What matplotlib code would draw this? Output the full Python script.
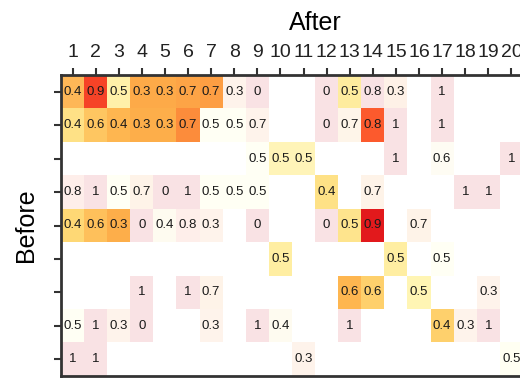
import numpy as np
import matplotlib
matplotlib.use("Agg")
import matplotlib.pyplot as plt

plt.rcParams['font.family'] = ['Liberation Sans', 'DejaVu Sans']

N = np.nan

# annotated value of each cell (rows = Before, cols = After)
values = np.array([
    [0.4, 0.9, 0.5, 0.3, 0.3, 0.7, 0.7, 0.3, 0, N, N, 0, 0.5, 0.8, 0.3, N, 1, N, N, N],
    [0.4, 0.6, 0.4, 0.3, 0.3, 0.7, 0.5, 0.5, 0.7, N, N, 0, 0.7, 0.8, 1, N, 1, N, N, N],
    [N, N, N, N, N, N, N, N, 0.5, 0.5, 0.5, N, N, N, 1, N, 0.6, N, N, 1],
    [0.8, 1, 0.5, 0.7, 0, 1, 0.5, 0.5, 0.5, N, N, 0.4, N, 0.7, N, N, N, 1, 1, N],
    [0.4, 0.6, 0.3, 0, 0.4, 0.8, 0.3, N, 0, N, N, 0, 0.5, 0.9, N, 0.7, N, N, N, N],
    [N, N, N, N, N, N, N, N, N, 0.5, N, N, N, N, 0.5, N, 0.5, N, N, N],
    [N, N, N, 1, N, 1, 0.7, N, N, N, N, N, 0.6, 0.6, N, 0.5, N, N, 0.3, N],
    [0.5, 1, 0.3, 0, N, N, 0.3, N, 1, 0.4, N, N, 1, N, N, N, 0.4, 0.3, 1, N],
    [1, 1, N, N, N, N, N, N, N, N, 0.3, N, N, N, N, N, N, N, N, 0.5],
])

# colour level of each cell on YlOrRd
shade = np.array([
    [0.37, 0.65, 0.10, 0.40, 0.40, 0.42, 0.44, 0.5, 0.8, N, N, 0.8, 0.13, 0.8, 0.5, N, 0.8, N, N, N],
    [0.2, 0.31, 0.36, 0.39, 0.39, 0.5, 0, 0, 0.5, N, N, 0.8, 0.4, 0.6, 0.8, N, 0.8, N, N, N],
    [N, N, N, N, N, N, N, N, 0, 0.08, 0.08, N, N, N, 0.8, N, 0.2, N, N, 0.8],
    [0.6, 0.8, 0, 0.45, 0.8, 0.8, 0, 0, 0, N, N, 0.2, N, 0.45, N, N, N, 0.8, 0.8, N],
    [0.25, 0.33, 0.39, 0.8, 0.2, 0.6, 0.5, N, 0.8, N, N, 0.8, 0.18, 0.75, N, 0.45, N, N, N, N],
    [N, N, N, N, N, N, N, N, N, 0.12, N, N, N, N, 0.12, N, 0, N, N, N],
    [N, N, N, 0.8, N, 0.8, 0.45, N, N, N, N, N, 0.36, 0.28, N, 0.07, N, N, 0.5, N],
    [0, 0.8, 0.5, 0.8, N, N, 0.5, N, 0.8, 0.2, N, N, 0.8, N, N, N, 0.28, 0.5, 0.8, N],
    [0.8, 0.8, N, N, N, N, N, N, N, N, 0.5, N, N, N, N, N, N, N, N, 0],
])

# opacity of each cell
alpha = np.array([
    [0.95, 1, 1, 1, 1, 1, 1, 0.1, 0.12, N, N, 0.12, 1, 0.12, 0.12, N, 0.12, N, N, N],
    [1, 1, 1, 1, 1, 1, 0.2, 0.2, 0.1, N, N, 0.12, 0.12, 1, 0.12, N, 0.12, N, N, N],
    [N, N, N, N, N, N, N, N, 0.2, 0.9, 0.9, N, N, N, 0.12, N, 0.1, N, N, 0.12],
    [0.1, 0.12, 0.2, 0.12, 0.12, 0.12, 0.2, 0.2, 0.2, N, N, 1, N, 0.12, N, N, N, 0.12, 0.12, N],
    [1, 1, 1, 0.12, 0.12, 0.1, 0.1, N, 0.12, N, N, 0.12, 1, 1, N, 0.12, N, N, N, N],
    [N, N, N, N, N, N, N, N, N, 1, N, N, N, N, 1, N, 0.2, N, N, N],
    [N, N, N, 0.12, N, 0.12, 0.12, N, N, N, N, N, 1, 1, N, 1, N, N, 0.1, N],
    [0.2, 0.12, 0.1, 0.12, N, N, 0.1, N, 0.12, 0.12, N, N, 0.12, N, N, N, 1, 0.1, 0.12, N],
    [0.12, 0.12, N, N, N, N, N, N, N, N, 0.1, N, N, N, N, N, N, N, N, 0.25],
])

n_rows, n_cols = values.shape
col_labels = [str(i) for i in range(1, 21)]

cmap = plt.get_cmap('YlOrRd')
rgba = cmap(np.nan_to_num(shade))
rgba[..., 3] = np.nan_to_num(alpha)

fig = plt.figure(figsize=(5.2, 3.78), dpi=100)
ax = fig.add_axes([61 / 520, 2 / 378, 22 * 23.1 / 520, 301 / 378])

ax.imshow(rgba, extent=(0.5, n_cols + 0.5, n_rows + 0.5, 0.5),
          aspect='auto', interpolation='nearest')

for i in range(n_rows):
    for j in range(n_cols):
        v = values[i, j]
        if np.isnan(v):
            continue
        ax.text(j + 1, i + 1, '%g' % v, ha='center', va='center',
                fontsize=9.5, color='#1a1a1a')

ax.set_xlim(0.5, 22.5)
ax.set_ylim(n_rows + 0.5, 0.5)
ax.set_xticks(range(1, 23))
ax.set_xticklabels(col_labels + ['', ''])
ax.set_yticks(range(1, n_rows + 1))
ax.set_yticklabels([])

ax.xaxis.tick_top()
ax.xaxis.set_label_position('top')
ax.tick_params(axis='x', top=True, bottom=False, labeltop=True, labelbottom=False,
               length=5, width=1.5, color='#333333', labelcolor='#222222',
               labelsize=14, pad=5)
ax.tick_params(axis='y', length=5, width=1.5, color='#333333')

ax.set_xlabel('After', fontsize=18, labelpad=10)
ax.set_ylabel('Before', fontsize=18, labelpad=8)

for s in ax.spines.values():
    s.set_color('#333333')
    s.set_linewidth(2)

fig.savefig('out.png', dpi=100)
